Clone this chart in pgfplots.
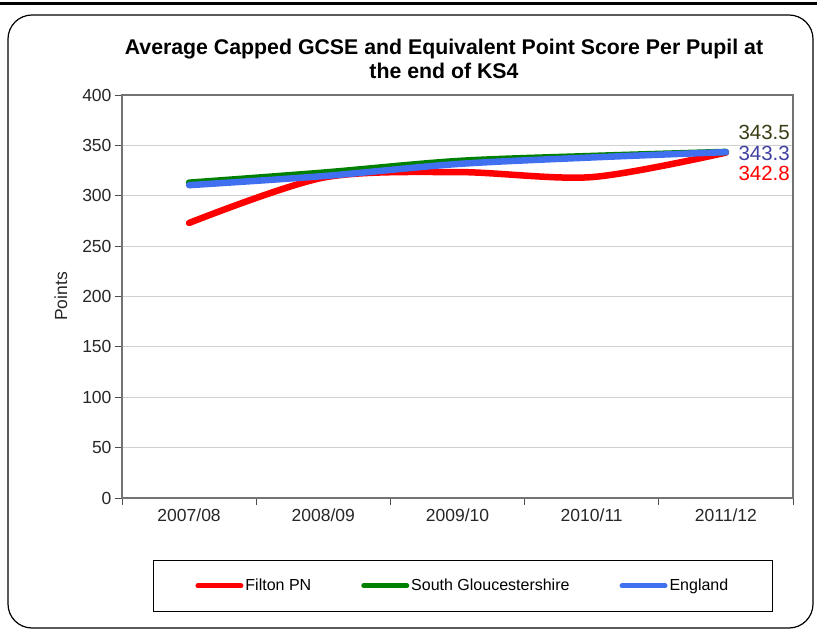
\documentclass[border=0pt]{standalone}
\usepackage{pgfplots}
\pgfplotsset{compat=1.18}
\usepackage{fontspec}
\setmainfont{Liberation Sans}
\definecolor{fred}{RGB}{255,0,0}
\definecolor{fgreen}{RGB}{0,128,0}
\definecolor{fblue}{RGB}{64,112,240}
\definecolor{lblolive}{RGB}{60,60,20}
\definecolor{lblblue}{RGB}{64,64,160}
\begin{document}
\begin{tikzpicture}[x=1pt,y=1pt]
\useasboundingbox (0,0) rectangle (817,630);
\draw[line width=3pt] (0,626) -- (817,626);
\draw[line width=1.2pt, rounded corners=24pt] (8,2) rectangle (813,615);
\node[align=center, font=\fontsize{21.3}{23.5}\selectfont\bfseries] at (444,571) {Average Capped GCSE and Equivalent Point Score Per Pupil at\\the end of KS4};
\begin{axis}[
  at={(122pt,132pt)}, anchor=south west,
  scale only axis, width=671pt, height=403pt,
  xmin=-0.5, xmax=4.5, ymin=0, ymax=400,
  xtick={0,1,2,3,4},
  xticklabels={2007/08,2008/09,2009/10,2010/11,2011/12},
  minor xtick={-0.5,0.5,1.5,2.5,3.5,4.5},
  major x tick style={draw=none},
  ytick={0,50,...,400},
  tick align=outside,
  tick pos=left,
  major tick length=7pt, minor tick length=7pt,
  ymajorgrids,
  grid style={line width=1.2pt, color=black!18},
  axis line style={draw=black!55, line width=1.3pt},
  every tick/.style={draw=black!70, line width=1pt},
  tick label style={font=\fontsize{17.5}{20}\selectfont, text=black!85},
  /pgf/number format/assume math mode=true,
  ylabel={Points},
  ylabel shift=8pt,
  ylabel style={font=\fontsize{17.5}{20}\selectfont, text=black!85},
  clip=false,
  legend columns=3,
  legend style={at={(0.508,-0.218)}, anchor=center, draw=black, line width=0.8pt,
    font=\fontsize{16}{19}\selectfont, inner xsep=42pt, inner ysep=17pt,
    /tikz/every even column/.append style={column sep=48pt}},
  legend image code/.code={\draw[#1, line width=5pt, line cap=round] (0pt,0pt) -- (43pt,0pt);},
]
\addplot[fred, line width=6.5pt, line cap=round, smooth, tension=0.5] coordinates {(0,273) (1,318) (2,323.5) (3,318.5) (4,342.8)};
\addlegendentry{Filton PN}
\addplot[fgreen, line width=6.5pt, line cap=round, smooth, tension=0.5] coordinates {(0,313) (1,323) (2,334.5) (3,339.5) (4,343.5)};
\addlegendentry{South Gloucestershire}
\addplot[fblue, line width=6.5pt, line cap=round, smooth, tension=0.5] coordinates {(0,310.5) (1,319.5) (2,331.5) (3,338) (4,343.3)};
\addlegendentry{England}
\node[anchor=east, inner sep=0pt, text=lblolive, font=\fontsize{20.5}{22}\selectfont] at (axis cs:4.478,362.6) {343.5};
\node[anchor=east, inner sep=0pt, text=lblblue, font=\fontsize{20.5}{22}\selectfont] at (axis cs:4.478,341.7) {343.3};
\node[anchor=east, inner sep=0pt, text=fred, font=\fontsize{20.5}{22}\selectfont] at (axis cs:4.478,322.3) {342.8};
\end{axis}
\end{tikzpicture}
\end{document}
